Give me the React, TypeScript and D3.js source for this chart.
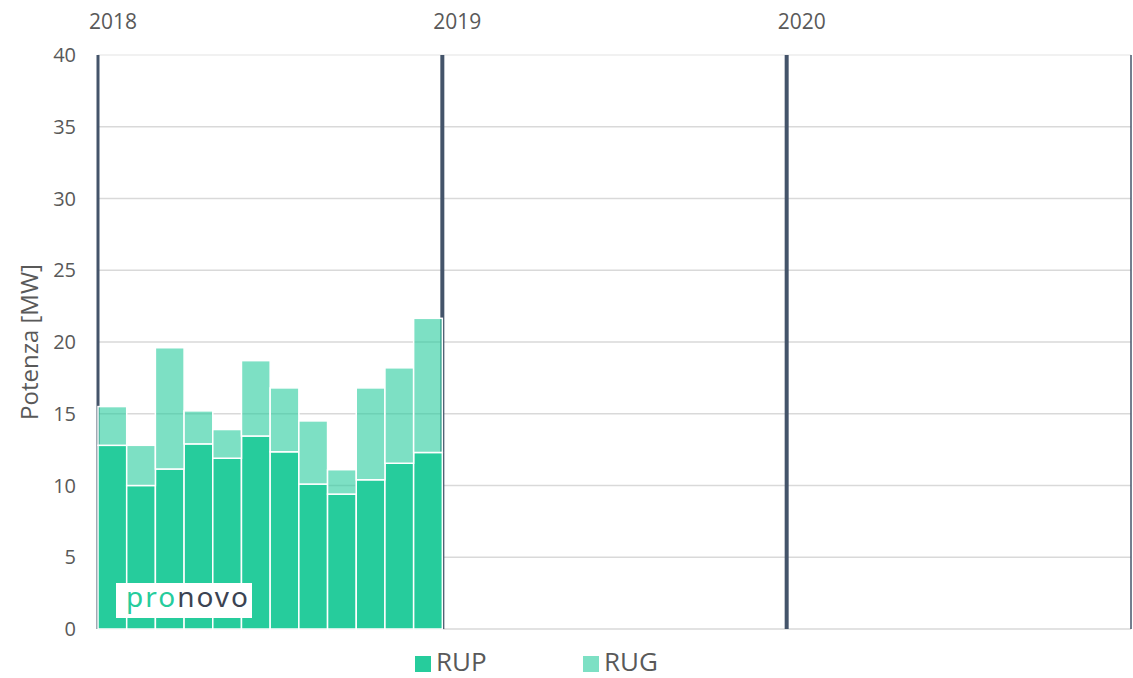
import React from "react";
import * as d3 from "d3";

const months = ["2018-01","2018-02","2018-03","2018-04","2018-05","2018-06","2018-07","2018-08","2018-09","2018-10","2018-11","2018-12"];
const rup = [12.8, 10.0, 11.15, 12.9, 11.9, 13.45, 12.35, 10.1, 9.4, 10.4, 11.55, 12.3];
const rug = [2.7, 2.8, 8.45, 2.3, 2.0, 5.25, 4.45, 4.4, 1.7, 6.4, 6.65, 9.35];
const years = ["2018", "2019", "2020"];
const yTicks = [0, 5, 10, 15, 20, 25, 30, 35, 40];
const seriesNames = ["RUP", "RUG"];

const W = 1133, H = 678;
const GREEN = "#26CC9C";
const FONT = "'Open Sans', sans-serif";

export default function App() {
  const x = d3.scaleLinear().domain([0, 36]).range([98, 1131]);
  const y = d3.scaleLinear().domain([0, 40]).range([629, 55]);
  const stackData = months.map((m, i) => ({ m, RUP: rup[i], RUG: rug[i] }));
  const stacked = d3.stack<any>().keys(seriesNames)(stackData);
  const fills = [{ fill: GREEN, op: 1 }, { fill: GREEN, op: 0.6 }];

  return (
    <svg width={W} height={H} style={{ position: "absolute", left: 0, top: 0, background: "#fff" }}>
      {/* grid */}
      {yTicks.map((t) => (
        <line key={"g" + t} x1={98} x2={1131} y1={y(t)} y2={y(t)}
          stroke={t === 40 ? "#ececec" : "#d9d9d9"} strokeWidth={1.5} />
      ))}
      {/* y tick labels */}
      {yTicks.map((t) => (
        <text key={"t" + t} x={76} y={y(t)} dy="0.36em" textAnchor="end"
          fontFamily={FONT} fontSize={20} fill="#595959">{t}</text>
      ))}
      <text transform={`translate(38,342) rotate(-90)`} textAnchor="middle"
        fontFamily={FONT} fontSize={24} fill="#595959">Potenza [MW]</text>
      {/* year separators */}
      {years.map((yr, i) => (
        <g key={yr}>
          <line x1={x(i * 12)} x2={x(i * 12)} y1={y(40)} y2={y(0)}
            stroke="#44546A" strokeWidth={i === 0 ? 3 : 4} />
          <text x={x(i * 12) - 9} y={29} fontFamily={FONT} fontSize={21} fill="#595959">{yr}</text>
        </g>
      ))}
      <line x1={x(36)} x2={x(36)} y1={y(40)} y2={y(0)} stroke="#44546A" strokeWidth={1.5} />
      {/* bars */}
      {stacked.map((s, si) => (
        <g key={s.key}>
          {s.map((d, i) => (
            <rect key={i} x={x(i)} y={y(d[1])} width={x(i + 1) - x(i)} height={y(d[0]) - y(d[1])}
              fill={fills[si].fill} fillOpacity={fills[si].op} stroke="#fff" strokeWidth={1.5} />
          ))}
        </g>
      ))}
      {/* logo */}
      <rect x={116} y={583} width={136} height={35} fill="#fff" />
      <text x={126} y={607} fontFamily="'Noto Sans', sans-serif" fontSize={28} fontWeight={400} letterSpacing={2}>
        <tspan fill={GREEN}>pro</tspan><tspan fill="#3b4352">novo</tspan>
      </text>
      {/* legend */}
      {seriesNames.map((n, i) => (
        <g key={n} transform={`translate(${415 + i * 168},0)`}>
          <rect x={0} y={656} width={16} height={16} fill={GREEN} fillOpacity={fills[i].op} />
          <text x={21} y={671} fontFamily={FONT} fontSize={26} fill="#595959">{n}</text>
        </g>
      ))}
    </svg>
  );
}
